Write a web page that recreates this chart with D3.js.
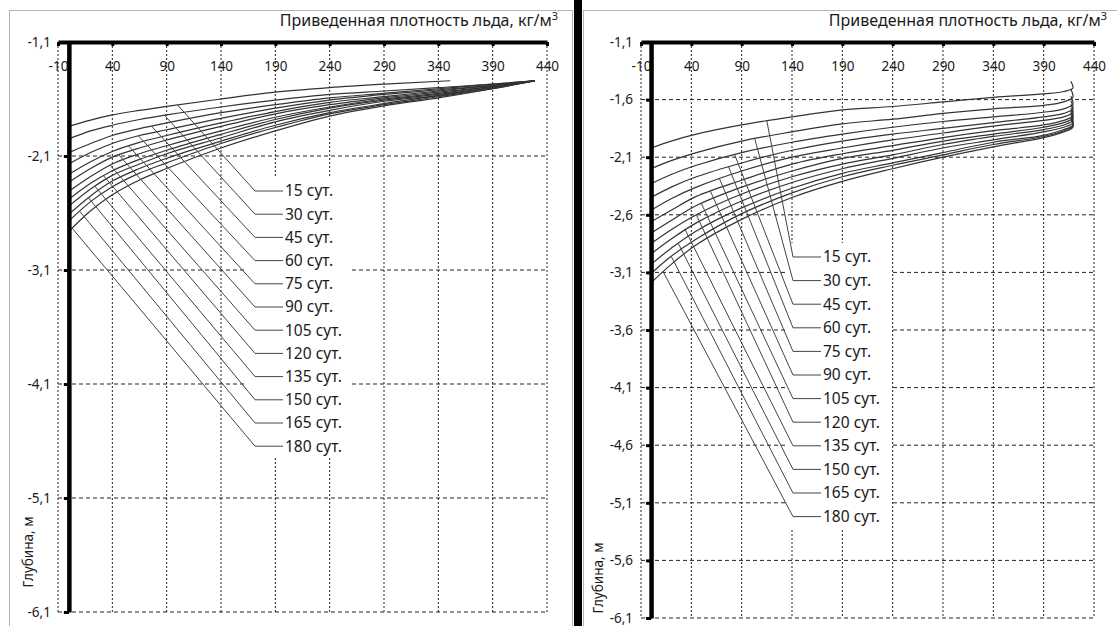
<!DOCTYPE html>
<html>
<head>
<meta charset="utf-8">
<script src="https://cdn.jsdelivr.net/npm/d3@7"></script>
<style>
body { margin: 0; background: #fff; }
svg { display: block; font-family: "Noto Sans", sans-serif; }
</style>
</head>
<body>
<svg id="chart" width="1117" height="626"></svg>
<script>
var days = [15, 30, 45, 60, 75, 90, 105, 120, 135, 150, 165, 180];
var xTicks = [-10, 40, 90, 140, 190, 240, 290, 340, 390, 440];
var yTicksLeft = [-1.1, -2.1, -3.1, -4.1, -5.1, -6.1];
var yTicksRight = [-1.1, -1.6, -2.1, -2.6, -3.1, -3.6, -4.1, -4.6, -5.1, -5.6, -6.1];

// left chart: density (kg/m3) -> depth (m)
var densLeft15 = [0, 20, 40, 65, 90, 140, 190, 240, 290, 351];
var densLeft = [0, 20, 40, 65, 90, 140, 190, 240, 290, 340, 390, 429];
var depthLeft = [
    [-1.84, -1.785, -1.74, -1.70, -1.665, -1.60, -1.54, -1.50, -1.47, -1.44],
    [-1.95, -1.88, -1.83, -1.78, -1.74, -1.67, -1.61, -1.56, -1.53, -1.50, -1.47, -1.44],
    [-2.07, -1.99, -1.92, -1.86, -1.81, -1.72, -1.65, -1.59, -1.55, -1.51, -1.47, -1.44],
    [-2.17, -2.07, -1.99, -1.92, -1.87, -1.77, -1.68, -1.61, -1.56, -1.52, -1.48, -1.44],
    [-2.26, -2.15, -2.06, -1.98, -1.92, -1.81, -1.71, -1.63, -1.58, -1.53, -1.48, -1.44],
    [-2.33, -2.21, -2.11, -2.03, -1.96, -1.84, -1.73, -1.65, -1.59, -1.54, -1.49, -1.44],
    [-2.41, -2.28, -2.17, -2.08, -2.01, -1.88, -1.76, -1.67, -1.60, -1.55, -1.49, -1.44],
    [-2.48, -2.34, -2.23, -2.13, -2.05, -1.91, -1.78, -1.68, -1.61, -1.56, -1.50, -1.44],
    [-2.54, -2.39, -2.27, -2.17, -2.08, -1.94, -1.80, -1.70, -1.62, -1.57, -1.50, -1.44],
    [-2.61, -2.45, -2.32, -2.21, -2.12, -1.97, -1.83, -1.72, -1.64, -1.57, -1.50, -1.44],
    [-2.67, -2.50, -2.37, -2.25, -2.16, -1.99, -1.85, -1.73, -1.65, -1.58, -1.51, -1.44],
    [-2.76, -2.58, -2.44, -2.31, -2.21, -2.03, -1.88, -1.75, -1.66, -1.59, -1.51, -1.44]
];
var anchorLeft = [100, 88, 76, 64, 55, 46, 38, 32, 24, 18, 10, 3];

// right chart (the last points form the small hook near the surface)
var densRight = [0, 20, 45, 90, 140, 190, 240, 290, 340, 390, 410, 419, 417];
var depthRight = [
    [-2.02, -1.96, -1.90, -1.82, -1.75, -1.69, -1.66, -1.62, -1.58, -1.55, -1.53, -1.50, -1.44],
    [-2.20, -2.13, -2.06, -1.96, -1.88, -1.81, -1.77, -1.72, -1.68, -1.65, -1.62, -1.58, -1.51],
    [-2.33, -2.25, -2.17, -2.06, -1.97, -1.90, -1.84, -1.79, -1.75, -1.71, -1.68, -1.64, -1.57],
    [-2.45, -2.36, -2.27, -2.15, -2.04, -1.96, -1.90, -1.85, -1.80, -1.75, -1.72, -1.68, -1.61],
    [-2.56, -2.46, -2.36, -2.22, -2.10, -2.02, -1.95, -1.89, -1.83, -1.78, -1.75, -1.71, -1.64],
    [-2.66, -2.56, -2.44, -2.30, -2.16, -2.07, -2.00, -1.93, -1.87, -1.82, -1.78, -1.74, -1.67],
    [-2.76, -2.65, -2.52, -2.36, -2.22, -2.11, -2.04, -1.96, -1.90, -1.84, -1.80, -1.76, -1.69],
    [-2.85, -2.73, -2.60, -2.42, -2.27, -2.16, -2.08, -1.99, -1.92, -1.86, -1.82, -1.78, -1.71],
    [-2.94, -2.81, -2.67, -2.48, -2.32, -2.20, -2.11, -2.02, -1.95, -1.88, -1.84, -1.80, -1.73],
    [-3.03, -2.89, -2.74, -2.54, -2.37, -2.24, -2.15, -2.06, -1.97, -1.91, -1.86, -1.82, -1.75],
    [-3.11, -2.96, -2.81, -2.59, -2.41, -2.27, -2.17, -2.08, -1.99, -1.92, -1.87, -1.83, -1.76],
    [-3.19, -3.03, -2.86, -2.64, -2.45, -2.31, -2.20, -2.10, -2.01, -1.93, -1.88, -1.84, -1.77]
];
var anchorRight = [115, 103, 83, 77, 68, 59, 50, 45, 34, 27, 20, 12];

var xTitle = "Приведенная плотность льда, кг/м";
var yTitle = "Глубина, м";

var ru = d3.formatLocale({decimal: ",", thousands: " ", grouping: [3], currency: ["", ""], minus: "-"});
var fmtY = ru.format(".1f");

var svg = d3.select("#chart");

// panel frames and the black divider
svg.append("rect").attr("x", 9.5).attr("y", 10.5).attr("width", 563).attr("height", 640)
    .attr("fill", "none").attr("stroke", "#b4b4b4");
svg.append("rect").attr("x", 583.5).attr("y", 10.5).attr("width", 560).attr("height", 640)
    .attr("fill", "none").attr("stroke", "#b4b4b4");
svg.append("rect").attr("x", 574).attr("y", 0).attr("width", 8).attr("height", 626).attr("fill", "#000");

function valueAt(dens, depth, v) {
    for (var i = 0; i < dens.length - 1; i++) {
        if (v >= dens[i] && v <= dens[i + 1]) {
            var t = (v - dens[i]) / (dens[i + 1] - dens[i]);
            return depth[i] + t * (depth[i + 1] - depth[i]);
        }
    }
    return depth[0];
}

function drawPanel(p) {
    var x = d3.scaleLinear().domain([-10, 440]).range([p.x0, p.x1]);
    var y = d3.scaleLinear().domain([-1.1, -6.1]).range([p.y0, p.y1]);
    var g = svg.append("g");

    g.selectAll(".vgrid").data(xTicks).enter().append("line")
        .attr("x1", d => x(d)).attr("x2", d => x(d))
        .attr("y1", y(-1.1)).attr("y2", y(-6.1))
        .attr("stroke", "#222").attr("stroke-dasharray", "2,2");

    g.selectAll(".hgrid").data(p.yTicks.slice(1)).enter().append("line")
        .attr("x1", x(-10)).attr("x2", x(440))
        .attr("y1", d => y(d)).attr("y2", d => y(d))
        .attr("stroke", "#222").attr("stroke-dasharray", "4,3");

    // white area behind the data labels
    g.append("rect")
        .attr("x", p.box[0]).attr("y", p.box[1]).attr("width", p.box[2]).attr("height", p.box[3])
        .attr("fill", "#fff");

    var line = d3.line()
        .x(d => x(d[0]))
        .y(d => y(d[1]))
        .curve(p.curve);

    g.selectAll(".curve").data(p.series).enter().append("path")
        .attr("d", s => line(d3.zip(s.dens, s.depth)))
        .attr("fill", "none").attr("stroke", "#333").attr("stroke-width", 1.2);

    var labels = g.selectAll(".lbl").data(p.series).enter().append("g");

    labels.append("path")
        .attr("d", (s, i) => {
            var ly = p.labelY0 + i * p.labelStep;
            return "M" + x(s.anchor) + "," + y(valueAt(s.dens, s.depth, s.anchor)) +
                "L" + p.elbowX + "," + ly + "H" + (p.elbowX + 28);
        })
        .attr("fill", "none").attr("stroke", "#444").attr("stroke-width", 1);

    labels.append("text")
        .attr("x", p.elbowX + 30)
        .attr("y", (s, i) => p.labelY0 + i * p.labelStep)
        .attr("dy", "0.35em")
        .attr("font-size", 15.5).attr("fill", "#1a1a1a")
        .text(s => s.day + " сут.");

    var xAxis = g.append("g")
        .attr("transform", "translate(0," + y(-1.1) + ")")
        .call(d3.axisBottom(x).tickValues(xTicks).tickSize(4).tickSizeOuter(0).tickPadding(15)
            .tickFormat(d => String(d)));
    xAxis.select(".domain").attr("stroke", "#000").attr("stroke-width", 4);
    xAxis.selectAll(".tick line").attr("stroke", "#000").attr("stroke-width", 3);
    xAxis.selectAll("text").attr("font-size", 13.5).attr("fill", "#1a1a1a")
        .attr("font-family", "Noto Sans, sans-serif");

    var yAxis = g.append("g")
        .attr("transform", "translate(" + x(0) + ",0)")
        .call(d3.axisLeft(y).tickValues(p.yTicks).tickSize(5).tickSizeOuter(0).tickPadding(13)
            .tickFormat(d => fmtY(d)));
    yAxis.select(".domain").attr("stroke", "#000").attr("stroke-width", 4.5);
    yAxis.selectAll(".tick line").attr("stroke", "#000").attr("stroke-width", 3);
    yAxis.selectAll("text").attr("font-size", 13.5).attr("fill", "#1a1a1a")
        .attr("font-family", "Noto Sans, sans-serif");

    var title = g.append("text")
        .attr("x", p.titleX).attr("y", 26)
        .attr("text-anchor", "end")
        .attr("font-size", 16).attr("fill", "#1a1a1a")
        .text(xTitle);
    title.append("tspan").attr("dy", -6).attr("font-size", 11).text("3");

    g.append("text")
        .attr("transform", "translate(" + p.yTitleX + "," + p.yTitleY + ") rotate(-90)")
        .attr("text-anchor", "middle").attr("dy", "0.35em")
        .attr("font-size", 13.5).attr("fill", "#1a1a1a")
        .text(yTitle);
}

drawPanel({
    x0: 58, x1: 547, y0: 42, y1: 612,
    yTicks: yTicksLeft,
    series: days.map((d, i) => ({day: d, dens: i === 0 ? densLeft15 : densLeft, depth: depthLeft[i], anchor: anchorLeft[i]})),
    curve: d3.curveMonotoneX,
    elbowX: 255, labelY0: 191, labelStep: 23.2,
    box: [247, 178, 103, 280],
    titleX: 558, yTitleX: 28, yTitleY: 552
});

drawPanel({
    x0: 641, x1: 1094, y0: 42, y1: 618,
    yTicks: yTicksRight,
    series: days.map((d, i) => ({day: d, dens: densRight, depth: depthRight[i], anchor: anchorRight[i]})),
    curve: d3.curveCatmullRom.alpha(0.5),
    elbowX: 793, labelY0: 257, labelStep: 23.6,
    box: [787, 243, 103, 287],
    titleX: 1107, yTitleX: 598, yTitleY: 578
});
</script>
</body>
</html>
